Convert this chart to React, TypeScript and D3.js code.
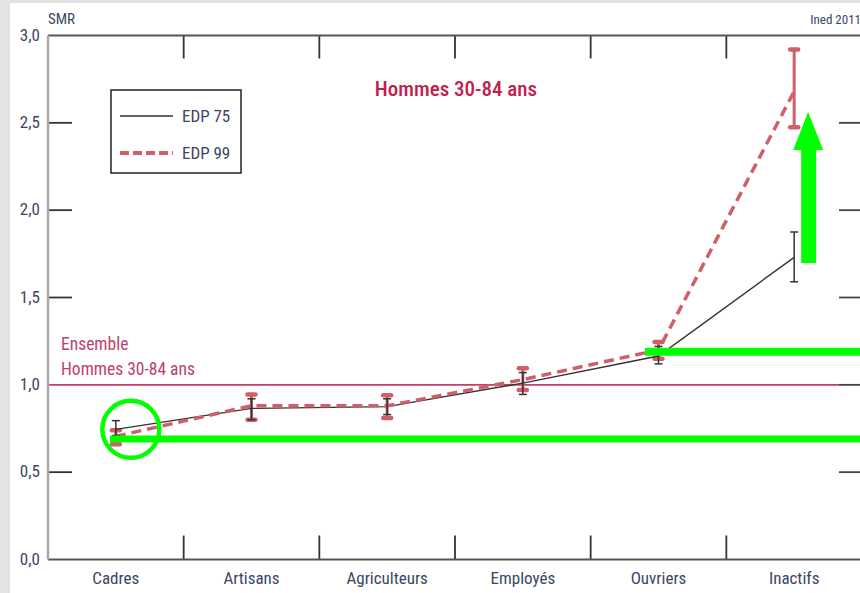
import React from "react";
import * as d3 from "d3";

const categories = ["Cadres", "Artisans", "Agriculteurs", "Employés", "Ouvriers", "Inactifs"];
const edp75 = [0.745, 0.865, 0.875, 1.01, 1.165, 1.73];
const edp75Low = [0.71, 0.80, 0.83, 0.945, 1.12, 1.59];
const edp75High = [0.795, 0.92, 0.92, 1.07, 1.22, 1.875];
const edp99 = [0.705, 0.88, 0.88, 1.03, 1.20, 2.68];
const edp99Low = [0.66, 0.80, 0.81, 0.97, 1.15, 2.475];
const edp99High = [0.74, 0.945, 0.94, 1.095, 1.245, 2.92];
const yTicks = [0, 0.5, 1, 1.5, 2, 2.5, 3];
const refValue = 1.0;
const seriesNames = ["EDP 75", "EDP 99"];

const W = 860;
const H = 593;
const M = { left: 48, right: 862, top: 35.5, bottom: 559.5 };
const FONT = "'Liberation Sans Narrow', 'Roboto Condensed', 'Liberation Sans', Arial, sans-serif";
const TXT = "#3b4666";
const RED = "#cf5f68";
const GREEN = "#00ff00";

export default function App() {
  const x = d3.scaleBand<string>().domain(categories).range([M.left, M.right]).padding(0);
  const y = d3.scaleLinear().domain([0, 3]).range([M.bottom, M.top]);
  const cx = (c: string) => (x(c) as number) + x.bandwidth() / 2;

  const line = d3
    .line<number>()
    .x((_, i) => cx(categories[i]))
    .y((d) => y(d));

  const boundaries = categories.slice(1).map((c) => x(c) as number);
  const innerTicks = yTicks.filter((t) => t > 0 && t < 3);

  return (
    <svg width={W} height={H} style={{ position: "absolute", left: 0, top: 0, background: "#fff" }} fontFamily={FONT}>
      <style>{"body{margin:0}"}</style>
      {/* grey frame */}
      <rect x={0} y={0} width={W} height={H} fill="#e3e3e3" />
      <rect x={10} y={3} width={W - 10} height={H - 3} fill="#fff" />

      {/* header texts */}
      <text x={M.left} y={24} fontSize={15} fill={TXT}>SMR</text>
      <text x={861} y={24} fontSize={13} fill={TXT} textAnchor="end">Ined 2011</text>

      {/* title */}
      <text x={456} y={96} fontSize={21} fill="#c0204c" textAnchor="middle" fontWeight={500}>
        Hommes 30-84 ans
      </text>

      {/* reference line */}
      <line x1={M.left} x2={M.right - 23} y1={y(refValue)} y2={y(refValue)} stroke="#cc3d66" strokeWidth={1.8} />
      <text x={61} y={350} fontSize={17.5} fill="#bf3f6c">Ensemble</text>
      <text x={61} y={375} fontSize={17.5} fill="#bf3f6c">Hommes 30-84 ans</text>

      {/* y ticks left and right */}
      {innerTicks.map((t) => (
        <g key={"t" + t}>
          {t !== refValue && (
            <line x1={M.left} x2={M.left + 24} y1={y(t)} y2={y(t)} stroke="#333" strokeWidth={1.8} />
          )}
          <line x1={M.right - 23} x2={M.right} y1={y(t)} y2={y(t)} stroke="#444" strokeWidth={1.8} />
        </g>
      ))}
      {yTicks.map((t) => (
        <text key={"l" + t} x={40} y={y(t) + 5} fontSize={17} fill={TXT} textAnchor="end">
          {d3.format(".1f")(t).replace(".", ",")}
        </text>
      ))}

      {/* category boundary ticks top and bottom */}
      {boundaries.map((b) => (
        <g key={"b" + b}>
          <line x1={b} x2={b} y1={M.top} y2={M.top + 23} stroke="#333" strokeWidth={1.8} />
          <line x1={b} x2={b} y1={M.bottom - 24} y2={M.bottom} stroke="#333" strokeWidth={1.8} />
        </g>
      ))}

      {/* axes frame */}
      <line x1={M.left} x2={M.right} y1={M.top} y2={M.top} stroke="#555" strokeWidth={2.2} />
      <line x1={M.left} x2={M.right} y1={M.bottom} y2={M.bottom} stroke="#555" strokeWidth={2.2} />
      <line x1={M.left} x2={M.left} y1={M.top} y2={M.bottom} stroke="#a9a9a9" strokeWidth={2.5} />

      {/* category labels */}
      {categories.map((c) => (
        <text key={c} x={cx(c)} y={584} fontSize={17} fill={TXT} textAnchor="middle">{c}</text>
      ))}

      {/* EDP 99 error bars */}
      {categories.map((c, i) => (
        <g key={"e99" + c} stroke={RED} strokeLinecap="round">
          <line x1={cx(c)} x2={cx(c)} y1={y(edp99Low[i])} y2={y(edp99High[i])} strokeWidth={3} />
          <line x1={cx(c) - 4} x2={cx(c) + 4} y1={y(edp99Low[i])} y2={y(edp99Low[i])} strokeWidth={4.5} />
          <line x1={cx(c) - 4} x2={cx(c) + 4} y1={y(edp99High[i])} y2={y(edp99High[i])} strokeWidth={4.5} />
        </g>
      ))}

      {/* EDP 75 line */}
      <path d={line(edp75) || ""} fill="none" stroke="#333" strokeWidth={1.4} />
      {/* EDP 99 line */}
      <path d={line(edp99) || ""} fill="none" stroke={RED} strokeWidth={3.5} strokeDasharray="10 6" />

      {/* EDP 75 error bars */}
      {categories.map((c, i) => (
        <g key={"e75" + c} stroke="#333" strokeWidth={1.5}>
          <line x1={cx(c)} x2={cx(c)} y1={y(edp75Low[i])} y2={y(edp75High[i])} />
          <line x1={cx(c) - 4} x2={cx(c) + 4} y1={y(edp75Low[i])} y2={y(edp75Low[i])} />
          <line x1={cx(c) - 4} x2={cx(c) + 4} y1={y(edp75High[i])} y2={y(edp75High[i])} />
        </g>
      ))}

      {/* legend */}
      <rect x={111} y={90} width={130} height={83} fill="#fff" stroke="#222" strokeWidth={1.5} />
      <line x1={120} x2={173} y1={116} y2={116} stroke="#333" strokeWidth={1.4} />
      <line x1={120} x2={173} y1={153} y2={153} stroke={RED} strokeWidth={4} strokeDasharray="9 4" />
      <text x={182} y={122} fontSize={17} fill={TXT}>{seriesNames[0]}</text>
      <text x={182} y={159} fontSize={17} fill={TXT}>{seriesNames[1]}</text>

      {/* green annotations */}
      <circle cx={cx(categories[0]) + 15} cy={y(0.745)} r={28.5} fill="none" stroke={GREEN} strokeWidth={4.5} />
      <line x1={110} x2={W} y1={y(0.69)} y2={y(0.69)} stroke={GREEN} strokeWidth={7} />
      <line x1={645} x2={W} y1={y(1.19)} y2={y(1.19)} stroke={GREEN} strokeWidth={8} />
      <rect x={cx(categories[5]) + 7} y={150} width={15} height={113} fill={GREEN} />
      <path
        d={`M${cx(categories[5]) - 1},150 L${cx(categories[5]) + 29},150 L${cx(categories[5]) + 14},112 Z`}
        fill={GREEN}
      />
    </svg>
  );
}
